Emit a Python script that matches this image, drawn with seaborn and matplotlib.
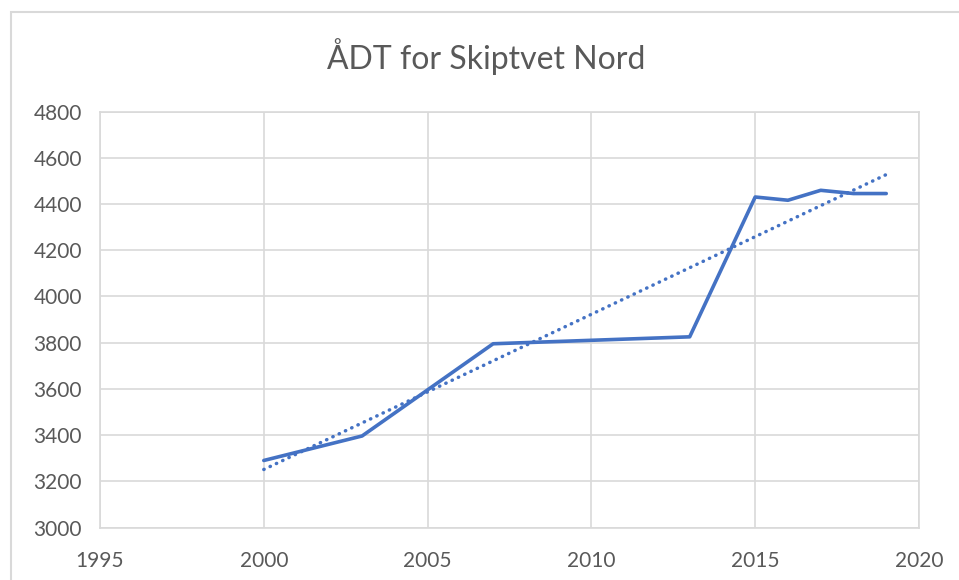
# Importing Libraries
import matplotlib
matplotlib.use('Agg')
import matplotlib.pyplot as plt
import seaborn as sns
import pandas as pd
from matplotlib.patches import Rectangle

# Data
years = [2000, 2003, 2007, 2013, 2015, 2016, 2017, 2018, 2019]
adt = [3290, 3396, 3795, 3825, 4430, 4416, 4459, 4445, 4445]
# Linear trend line (start and end as shown in the chart)
trend_years = [2000, 2019]
trend_adt = [3251, 4527]

x_ticks = [1995, 2000, 2005, 2010, 2015, 2020]
y_ticks = [3000, 3200, 3400, 3600, 3800, 4000, 4200, 4400, 4600, 4800]

df = pd.DataFrame({'År': years, 'ÅDT': adt})
df_trend = pd.DataFrame({'År': trend_years, 'ÅDT': trend_adt})

sns.set_style('whitegrid', {'grid.color': '#D9D9D9', 'axes.edgecolor': '#D9D9D9'})
plt.rcParams['font.family'] = ['Lato', 'DejaVu Sans']

text_col = '#595959'
line_col = '#4472C4'

fig = plt.figure(figsize=(9.59, 5.80), dpi=100)
ax = fig.add_axes([100 / 959, 1 - 527.5 / 580, 819 / 959, 416 / 580])

# Outer chart border (only top and left visible)
fig.patches.append(Rectangle((11 / 959, -0.05), 1.2, 1 - 12 / 580 + 0.05,
                             transform=fig.transFigure, fill=False,
                             edgecolor='#D9D9D9', linewidth=1.5))

sns.lineplot(data=df, x='År', y='ÅDT', ax=ax, color=line_col, linewidth=2.6)
sns.lineplot(data=df_trend, x='År', y='ÅDT', ax=ax, color=line_col,
             linewidth=2.5, linestyle=(0, (0.1, 1.9)), dash_capstyle='round')

ax.set_xlim(1995, 2020)
ax.set_ylim(3000, 4800)
ax.set_xticks(x_ticks)
ax.set_yticks(y_ticks)
ax.grid(True, color='#D9D9D9', linewidth=1.2)
for s in ax.spines.values():
    s.set_color('#D9D9D9')
    s.set_linewidth(1.2)
ax.tick_params(length=0, labelsize=15, labelcolor=text_col)
ax.tick_params(axis='y', pad=13)
ax.tick_params(axis='x', pad=17)
ax.set_xlabel('')
ax.set_ylabel('')

fig.text(486 / 959, 1 - 57 / 580, 'ÅDT for Skiptvet Nord', ha='center', va='center',
         fontsize=23, color=text_col)

fig.savefig('out.png', dpi=100)
